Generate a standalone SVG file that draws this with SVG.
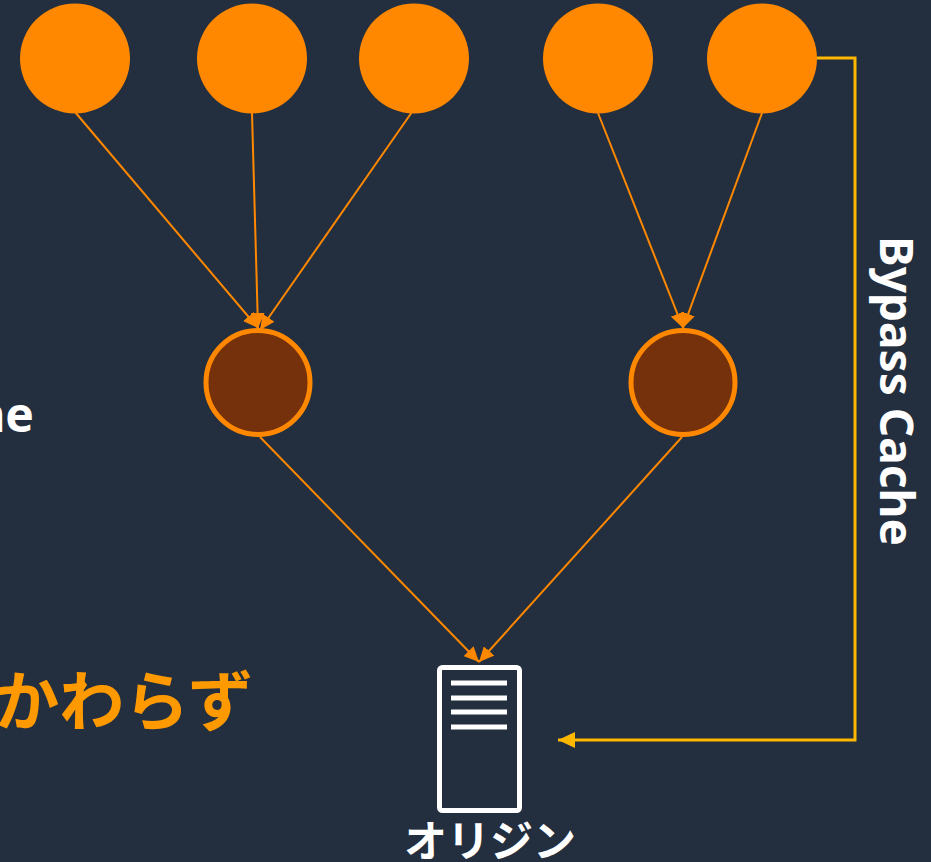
<svg xmlns="http://www.w3.org/2000/svg" width="931" height="862" viewBox="0 0 931 862">
<style>
.client{fill:#FF8800;}
.edge{fill:#75310C;stroke:#FF8800;stroke-width:5;}
.conn{stroke:#FF8800;stroke-width:2;fill:none;}
.bypass{stroke:#FFB700;stroke-width:3;fill:none;}
.srv{fill:none;stroke:#FFFFFF;stroke-width:5;}
.srvline{stroke:#FFFFFF;stroke-width:5;}
.wt{fill:#FFFFFF;font-family:"Noto Sans","Liberation Sans",sans-serif;font-weight:bold;}
.jp{font-family:"Noto Sans CJK JP",sans-serif;font-weight:bold;}
</style>
<defs>
<marker id="ah" markerUnits="userSpaceOnUse" markerWidth="16" markerHeight="14" refX="15" refY="7" orient="auto">
<path d="M0,0 L15,7 L0,14 z" fill="#FF8800"/>
</marker>
<marker id="ahy" markerUnits="userSpaceOnUse" markerWidth="18" markerHeight="16" refX="17" refY="8" orient="auto">
<path d="M0,0 L17,8 L0,16 z" fill="#FFB700"/>
</marker>
</defs>
<rect x="0" y="0" width="931" height="862" fill="#232F3E"/>
<g id="connectors">
<line class="conn" x1="75" y1="112" x2="258" y2="328" marker-end="url(#ah)"/>
<line class="conn" x1="252" y1="113" x2="258" y2="328" marker-end="url(#ah)"/>
<line class="conn" x1="412" y1="112" x2="260" y2="330" marker-end="url(#ah)"/>
<line class="conn" x1="598" y1="113" x2="683" y2="328" marker-end="url(#ah)"/>
<line class="conn" x1="762" y1="113" x2="683" y2="328" marker-end="url(#ah)"/>
<line class="conn" x1="260" y1="437" x2="479" y2="662" marker-end="url(#ah)"/>
<line class="conn" x1="682" y1="437" x2="479" y2="662" marker-end="url(#ah)"/>
<polyline class="bypass" points="817,58 855,58 855,740 558,740" marker-end="url(#ahy)"/>
</g>
<g id="client1"><circle class="client" cx="75" cy="58.5" r="55"/></g>
<g id="client2"><circle class="client" cx="252" cy="58.5" r="55"/></g>
<g id="client3"><circle class="client" cx="414" cy="58.5" r="55"/></g>
<g id="client4"><circle class="client" cx="598" cy="58.5" r="55"/></g>
<g id="client5"><circle class="client" cx="762" cy="58.5" r="55"/></g>
<g id="edge1"><circle class="edge" cx="258" cy="382.5" r="52"/></g>
<g id="edge2"><circle class="edge" cx="683" cy="382.5" r="52"/></g>
<g id="origin">
<rect class="srv" x="439.5" y="667.5" width="80" height="143" rx="3"/>
<line class="srvline" x1="451" y1="683" x2="507" y2="683"/>
<line class="srvline" x1="451" y1="698" x2="507" y2="698"/>
<line class="srvline" x1="451" y1="712" x2="507" y2="712"/>
<line class="srvline" x1="451" y1="727" x2="507" y2="727"/>
<text class="wt jp" x="490" y="857" font-size="43" text-anchor="middle">オリジン</text>
</g>
<g id="labels">
<text class="wt" x="34" y="432" font-size="48" text-anchor="end">ne</text>
<text class="jp" x="253" y="725" font-size="65" fill="#FF9900" text-anchor="end">かわらず</text>
<text class="wt" transform="translate(880,391) rotate(90)" font-size="46" text-anchor="middle">Bypass Cache</text>
</g>
</svg>
